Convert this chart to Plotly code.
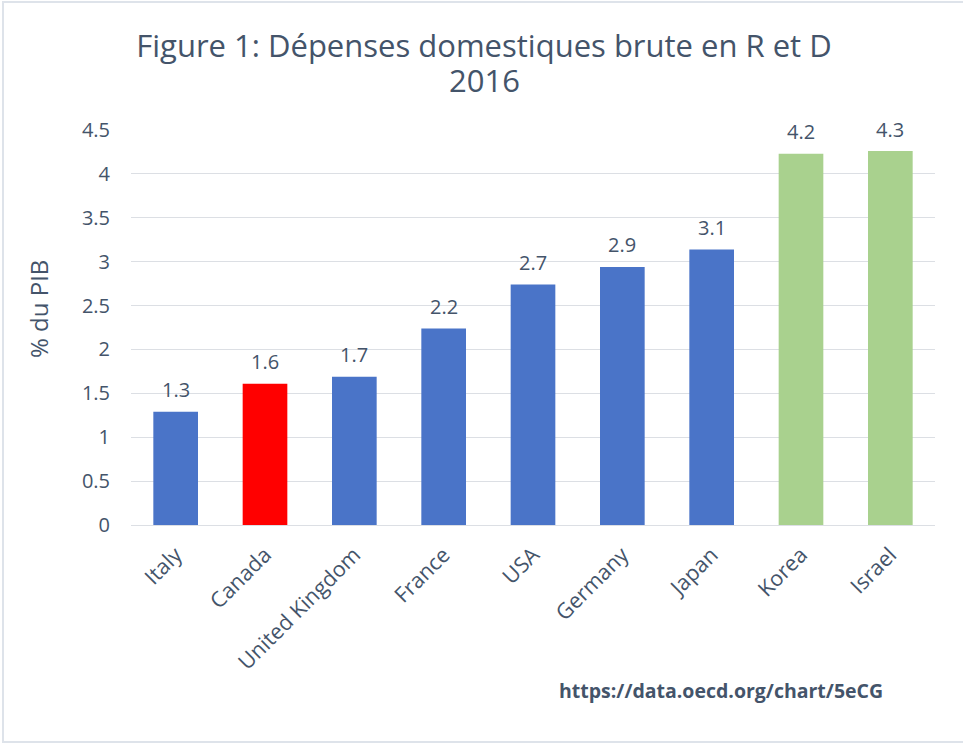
import plotly.graph_objects as go

countries = ["Italy", "Canada", "United Kingdom", "France", "USA", "Germany", "Japan", "Korea", "Israel"]
gerd_pct_gdp = [1.29, 1.61, 1.69, 2.24, 2.74, 2.94, 3.14, 4.23, 4.26]
bar_colors = ["#4A74C8", "#FF0000", "#4A74C8", "#4A74C8", "#4A74C8", "#4A74C8", "#4A74C8", "#A9D18E", "#A9D18E"]
y_ticks = [0, 0.5, 1, 1.5, 2, 2.5, 3, 3.5, 4, 4.5]
y_tick_labels = ["0", "0.5", "1", "1.5", "2", "2.5", "3", "3.5", "4", "4.5"]

W, H = 963, 744
ML, MR, MT, MB = 131, 28, 130, 219
PW, PH = W - ML - MR, H - MT - MB
txt = "#44546A"
font = "Open Sans"


def px_x(x):
    return (x - ML) / PW


def px_y(y):
    return (H - MB - y) / PH


fig = go.Figure(go.Bar(
    x=countries, y=gerd_pct_gdp,
    marker=dict(color=bar_colors, line=dict(width=0)),
    hoverinfo="x+y",
))

value_labels = [
    dict(
        x=c, y=v, xref="x", yref="y", text=f"{v:.1f}", showarrow=False,
        xanchor="center", yanchor="middle", yshift=22,
        font=dict(family=font, size=20, color=txt),
    )
    for c, v in zip(countries, gerd_pct_gdp)
]

fig.update_layout(
    width=W, height=H,
    margin=dict(l=ML, r=MR, t=MT, b=MB),
    paper_bgcolor="white", plot_bgcolor="white",
    bargap=0.5,
    showlegend=False,
    font=dict(family=font, color=txt),
    title=dict(
        text="Figure 1: Dépenses domestiques brute en R et D",
        x=484 / W, xanchor="center", xref="container",
        y=1 - 46 / H, yref="container", yanchor="middle",
        font=dict(family=font, size=31, color=txt),
    ),
    xaxis=dict(
        tickangle=-45, tickfont=dict(family=font, size=21.5, color=txt),
        showgrid=False, showline=False, ticks="",
        ticklabelstandoff=12,
    ),
    yaxis=dict(
        range=[0, 4.5], tickvals=y_ticks, ticktext=y_tick_labels,
        tickfont=dict(family=font, size=20, color=txt),
        showgrid=True, gridcolor="#DCDFE4", gridwidth=1,
        zeroline=True, zerolinecolor="#DCDFE4", zerolinewidth=1,
        showline=False, ticks="", ticklen=0,
        ticklabelstandoff=20,
    ),
    annotations=value_labels + [
        dict(
            text="2016",
            xref="paper", yref="paper", x=px_x(484), y=px_y(80),
            xanchor="center", yanchor="middle", showarrow=False,
            font=dict(family=font, size=31, color=txt),
        ),
        dict(
            text="% du PIB", textangle=-90,
            xref="paper", yref="paper", x=px_x(38), y=px_y(309),
            xanchor="center", yanchor="middle", showarrow=False,
            font=dict(family=font, size=24, color=txt),
        ),
        dict(
            text="<b>https://data.oecd.org/chart/5eCG</b>",
            xref="paper", yref="paper", x=px_x(885), y=px_y(690),
            xanchor="right", yanchor="middle", showarrow=False,
            font=dict(family=font, size=19.5, color=txt),
        ),
    ],
    shapes=[dict(
        type="rect", xref="paper", yref="paper",
        x0=px_x(3), x1=px_x(975), y0=px_y(742), y1=px_y(2),
        line=dict(color="#DEE3EA", width=2), fillcolor="rgba(0,0,0,0)", layer="below",
    )],
)

fig.write_html("out.html", config={"displayModeBar": False},
               post_script="document.body.style.margin='0';")
